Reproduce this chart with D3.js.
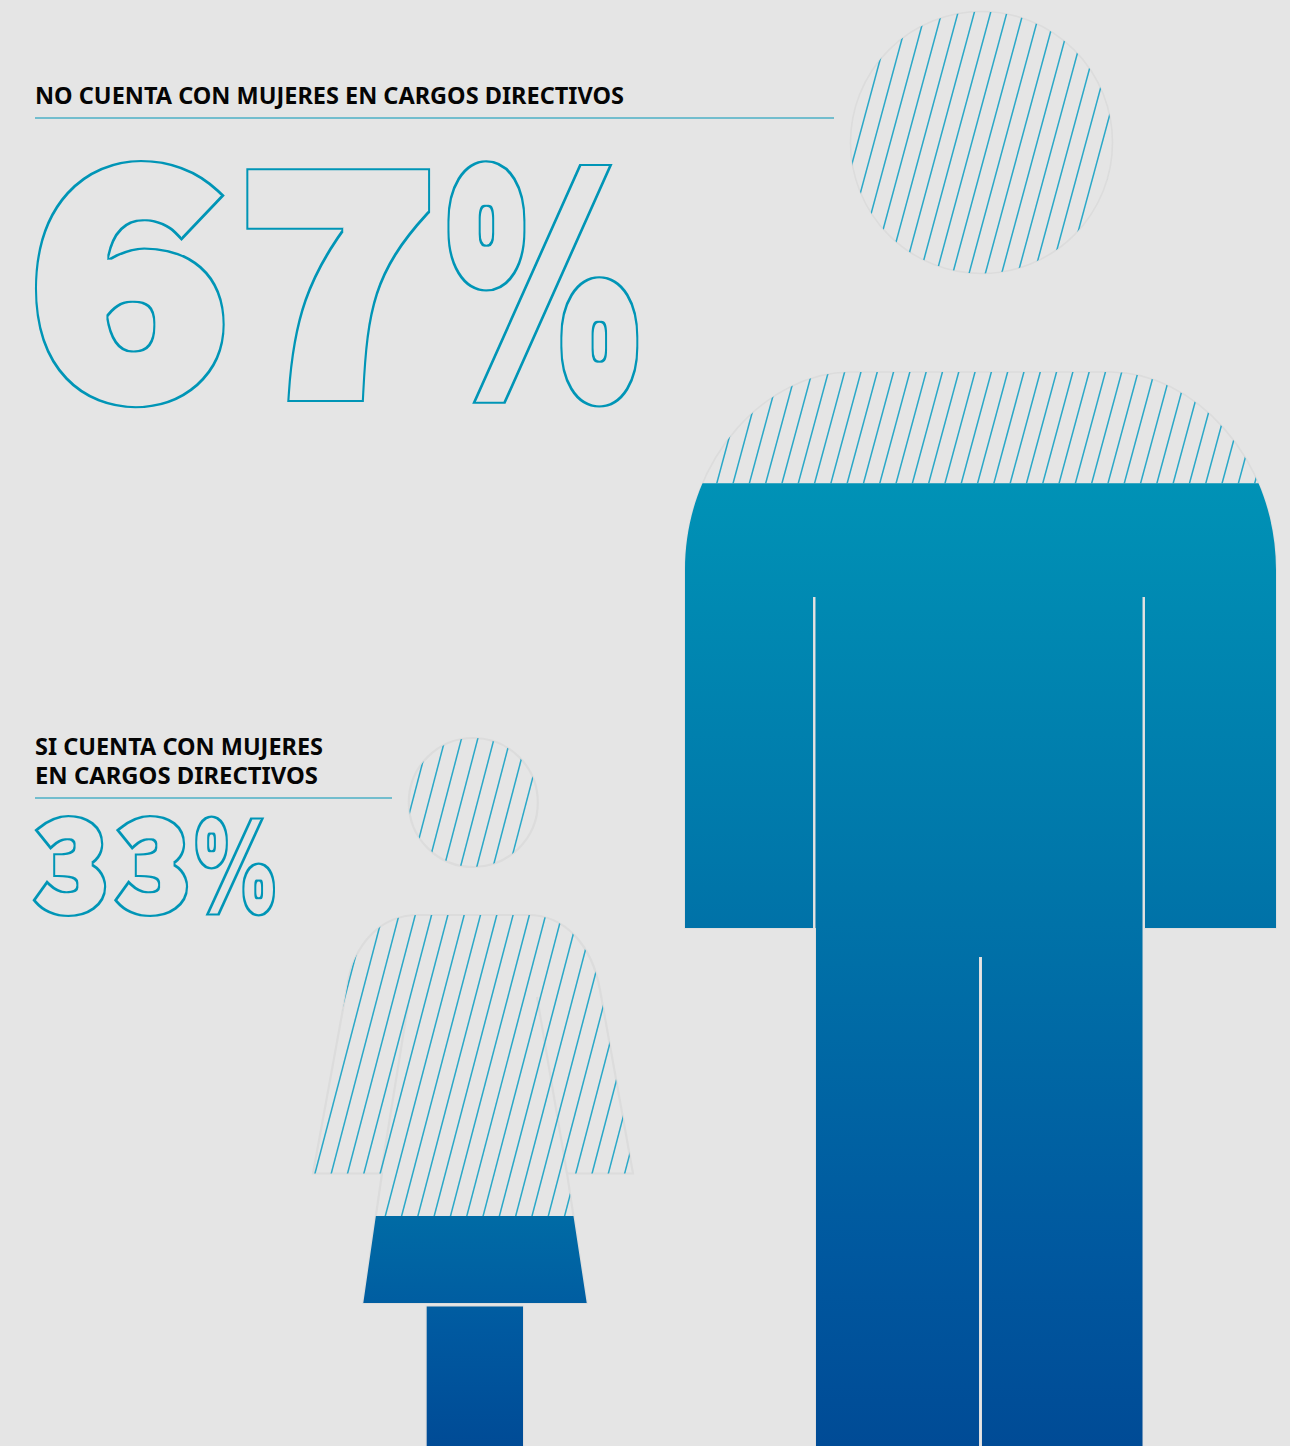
<!DOCTYPE html>
<html lang="es">
<head>
<meta charset="utf-8">
<title>Mujeres en cargos directivos</title>
<script src="https://cdn.jsdelivr.net/npm/d3@7/dist/d3.min.js"></script>
<style>
  html, body { margin: 0; padding: 0; background: #e5e5e5; }
  svg { display: block; }
</style>
</head>
<body>
<svg id="chart" width="1290" height="1446"></svg>
<script>
// Share of companies in each group, in percent.
const categories = ["NO CUENTA CON MUJERES EN CARGOS DIRECTIVOS", "SI CUENTA CON MUJERES EN CARGOS DIRECTIVOS"];
const shares = [67, 33];
const headingLines = [["NO CUENTA CON MUJERES EN CARGOS DIRECTIVOS"], ["SI CUENTA CON MUJERES", "EN CARGOS DIRECTIVOS"]];

const svg = d3.select("#chart");
const defs = svg.append("defs");
const BG = "#e5e5e5", ACCENT = "#0095b6", HATCH = "#2aa8c8", OUTLINE = "#dcdcdc";
svg.append("rect").attr("width", 1290).attr("height", 1446).attr("fill", BG);

// Silhouette of the man: body with the two arm slits and the slit between the legs.
function manBody() {
  const p = d3.path();
  p.moveTo(685, 570);
  p.bezierCurveTo(685, 455, 770, 372, 850, 372);
  p.lineTo(1111, 372);
  p.bezierCurveTo(1191, 372, 1276, 455, 1276, 570);
  p.lineTo(1276, 928); p.lineTo(1145, 928); p.lineTo(1145, 597); p.lineTo(1142.5, 597);
  p.lineTo(1142.5, 1446); p.lineTo(982, 1446); p.lineTo(982, 957); p.lineTo(979, 957);
  p.lineTo(979, 1446); p.lineTo(816, 1446); p.lineTo(816, 928); p.lineTo(815.5, 928);
  p.lineTo(815.5, 597); p.lineTo(813, 597); p.lineTo(813, 928); p.lineTo(685, 928);
  p.closePath();
  return p.toString();
}

// Silhouette of the woman: dress with flared sleeves, skirt and legs.
function womanBody() {
  const p = d3.path();
  p.moveTo(418, 915);
  p.bezierCurveTo(380, 915, 353, 945, 347, 987);
  p.lineTo(313, 1173.5); p.lineTo(382, 1173.5); p.lineTo(363.3, 1303);
  p.lineTo(586.7, 1303); p.lineTo(567, 1173.5); p.lineTo(633, 1173.5);
  p.lineTo(600, 990);
  p.bezierCurveTo(592, 945, 565, 915, 528, 915);
  p.closePath();
  p.moveTo(426.7, 1306.5); p.lineTo(523, 1306.5); p.lineTo(523, 1446); p.lineTo(426.7, 1446);
  p.closePath();
  return p.toString();
}

const figures = [
  {
    id: "hombre", value: shares[0], head: [981.5, 142.5, 131], body: manBody(), seams: [],
    extent: [1446, 9], strokeWidth: 1.6,
    hatch: { x: 716.6, y: 484, slope: 0.27, step: 16.3 },
    stops: [[0, "#0092b6"], [0.42, "#0075a9"], [0.8, "#00589f"], [1, "#004b96"]]
  },
  {
    id: "mujer", value: shares[1], head: [473.3, 802.5, 64.5], body: womanBody(),
    seams: [[[408, 1005], [381, 1173.5]], [[537, 997], [567, 1173.5]]],
    extent: [1451.4, 738], strokeWidth: 2.2,
    hatch: { x: 315, y: 1173.3, slope: 0.262, step: 16.3 },
    stops: [[0, "#006ba5"], [0.5, "#0059a0"], [1, "#004b96"]]
  }
];

const seamLine = d3.line();

figures.forEach(f => {
  // The fill rises from the feet to the share stated by the figure's label.
  const level = d3.scaleLinear().domain([0, 100]).range(f.extent);
  const y0 = level(f.value);

  const grad = defs.append("linearGradient").attr("id", "grad-" + f.id)
    .attr("gradientUnits", "userSpaceOnUse")
    .attr("x1", 0).attr("x2", 0).attr("y1", y0).attr("y2", 1446);
  grad.selectAll("stop").data(f.stops).join("stop")
    .attr("offset", d => d[0]).attr("stop-color", d => d[1]);

  const silhouette = defs.append("clipPath").attr("id", "shape-" + f.id);
  silhouette.append("circle").attr("cx", f.head[0]).attr("cy", f.head[1]).attr("r", f.head[2]);
  silhouette.append("path").attr("d", f.body);

  defs.append("clipPath").attr("id", "above-" + f.id)
    .append("rect").attr("x", 0).attr("y", 0).attr("width", 1290).attr("height", y0);
  defs.append("clipPath").attr("id", "below-" + f.id)
    .append("rect").attr("x", 0).attr("y", y0).attr("width", 1290).attr("height", 1446 - y0);

  const g = svg.append("g").attr("id", f.id);

  // Faint outline of the whole figure.
  const outline = g.append("g").attr("fill", "none").attr("stroke", OUTLINE).attr("stroke-width", f.strokeWidth);
  outline.append("circle").attr("cx", f.head[0]).attr("cy", f.head[1]).attr("r", f.head[2]);
  outline.append("path").attr("d", f.body);
  f.seams.forEach(s => outline.append("path").attr("d", seamLine(s)));

  // Diagonal hatching over the part of the figure that stays empty.
  const h = f.hatch;
  const xAt = (offset, y) => h.x + offset * h.step - h.slope * (y - h.y);
  const hatchGroup = g.append("g").attr("clip-path", `url(#above-${f.id})`)
    .append("g").attr("clip-path", `url(#shape-${f.id})`);
  hatchGroup.selectAll("line").data(d3.range(-70, 90)).join("line")
    .attr("x1", d => xAt(d, 0)).attr("y1", 0)
    .attr("x2", d => xAt(d, 1446)).attr("y2", 1446)
    .attr("stroke", HATCH).attr("stroke-width", 1.5);

  // Solid gradient part.
  g.append("g").attr("clip-path", `url(#below-${f.id})`)
    .append("path").attr("d", f.body).attr("fill", `url(#grad-${f.id})`);
});

// Headings with their rules.
const headingStyle = [
  { x: 35, baselines: [104], widths: [589], rule: [118, 834] },
  { x: 35, baselines: [755, 784], widths: [288, 283], rule: [798, 392] }
];
headingLines.forEach((lines, i) => {
  const s = headingStyle[i];
  svg.append("g").selectAll("text").data(lines).join("text")
    .attr("x", s.x).attr("y", (d, j) => s.baselines[j])
    .attr("textLength", (d, j) => s.widths[j]).attr("lengthAdjust", "spacingAndGlyphs")
    .attr("font-family", "'Noto Sans', sans-serif").attr("font-weight", 700)
    .attr("font-size", 22.5).attr("fill", "#050505").text(d => d);
  svg.append("line").attr("x1", s.x).attr("x2", s.rule[1]).attr("y1", s.rule[0]).attr("y2", s.rule[0])
    .attr("stroke", ACCENT).attr("stroke-width", 1);
});

// The percentages are thick stroked text reduced to a thin contour by a filter.
const contour = defs.append("filter").attr("id", "contour")
  .attr("filterUnits", "userSpaceOnUse")
  .attr("x", 0).attr("y", 0).attr("width", 1290).attr("height", 1446);
contour.append("feMorphology").attr("in", "SourceAlpha").attr("operator", "erode")
  .attr("radius", 1.5).attr("result", "core");
contour.append("feComposite").attr("in", "SourceAlpha").attr("in2", "core")
  .attr("operator", "out").attr("result", "ring");
contour.append("feFlood").attr("flood-color", ACCENT).attr("result", "ink");
contour.append("feComposite").attr("in", "ink").attr("in2", "ring").attr("operator", "in");

// Each character is fitted to its own box, using the font's ink measurements.
const ruler = document.createElement("canvas").getContext("2d");
const DIGIT_FONT = "'Noto Sans CJK SC'", SIGN_FONT = "Inter";
const percentBoxes = [
  [{ font: DIGIT_FONT, box: [33, 225, 160, 407], spread: 17 },
   { font: DIGIT_FONT, box: [246, 433, 167, 402], spread: 17 },
   { font: SIGN_FONT, box: [447, 640, 160, 407], spread: 12 }],
  [{ font: DIGIT_FONT, box: [33, 107, 815.7, 916.7], spread: 8 },
   { font: DIGIT_FONT, box: [114.6, 189, 815.7, 916.7], spread: 8 },
   { font: SIGN_FONT, box: [195, 275.7, 815.7, 916.7], spread: 5 }]
];

shares.forEach((v, i) => {
  const group = svg.append("g").attr("filter", "url(#contour)");
  Array.from(v + "%").forEach((ch, k) => {
    const { font, box, spread } = percentBoxes[i][k];
    const [x0, x1, y0, y1] = box;
    ruler.font = `900 100px ${font}`;
    const m = ruler.measureText(ch);
    const inkH = (m.actualBoundingBoxAscent + m.actualBoundingBoxDescent) / 100;
    const inkW = (m.actualBoundingBoxLeft + m.actualBoundingBoxRight) / 100;
    const size = (y1 - y0 - spread) / inkH;
    const sx = (x1 - x0) / (inkW * size + spread);
    const tx = x0 + sx * (m.actualBoundingBoxLeft / 100 * size + spread / 2);
    const ty = y1 - spread / 2 - m.actualBoundingBoxDescent / 100 * size;
    group.append("text")
      .attr("transform", `translate(${tx},${ty}) scale(${sx},1)`)
      .attr("font-family", `${font}, sans-serif`).attr("font-weight", 900)
      .attr("font-size", size).attr("fill", "#000").attr("stroke", "#000")
      .attr("stroke-width", spread).attr("stroke-linejoin", "miter")
      .text(ch);
  });
});
</script>
</body>
</html>
